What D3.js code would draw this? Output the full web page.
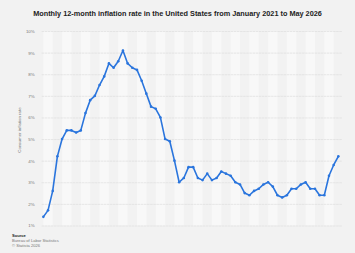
<!DOCTYPE html>
<html>
<head>
<meta charset="utf-8">
<script src="https://cdn.jsdelivr.net/npm/d3@7"></script>
<style>
  html, body { margin: 0; padding: 0; background: #f2f2f2; }
  svg { display: block; font-family: "Liberation Sans", Arial, sans-serif; }
</style>
</head>
<body>
<div id="wrapper"></div>
<script>
// months shown (October 2025 has no value, so it is skipped)
const months = [
  "Jan 2021","Feb 2021","Mar 2021","Apr 2021","May 2021","Jun 2021","Jul 2021","Aug 2021","Sep 2021","Oct 2021","Nov 2021","Dec 2021",
  "Jan 2022","Feb 2022","Mar 2022","Apr 2022","May 2022","Jun 2022","Jul 2022","Aug 2022","Sep 2022","Oct 2022","Nov 2022","Dec 2022",
  "Jan 2023","Feb 2023","Mar 2023","Apr 2023","May 2023","Jun 2023","Jul 2023","Aug 2023","Sep 2023","Oct 2023","Nov 2023","Dec 2023",
  "Jan 2024","Feb 2024","Mar 2024","Apr 2024","May 2024","Jun 2024","Jul 2024","Aug 2024","Sep 2024","Oct 2024","Nov 2024","Dec 2024",
  "Jan 2025","Feb 2025","Mar 2025","Apr 2025","May 2025","Jun 2025","Jul 2025","Aug 2025","Sep 2025","Nov 2025","Dec 2025",
  "Jan 2026","Feb 2026","Mar 2026","Apr 2026","May 2026"
];
const rates = [
  1.4, 1.7, 2.6, 4.2, 5.0, 5.4, 5.4, 5.3, 5.4, 6.2, 6.8, 7.0,
  7.5, 7.9, 8.5, 8.3, 8.6, 9.1, 8.5, 8.3, 8.2, 7.7, 7.1, 6.5,
  6.4, 6.0, 5.0, 4.9, 4.0, 3.0, 3.2, 3.7, 3.7, 3.2, 3.1, 3.4,
  3.1, 3.2, 3.5, 3.4, 3.3, 3.0, 2.9, 2.5, 2.4, 2.6, 2.7, 2.9,
  3.0, 2.8, 2.4, 2.3, 2.4, 2.7, 2.7, 2.9, 3.0, 2.7, 2.7,
  2.4, 2.4, 3.3, 3.8, 4.2
];
const yTicks = [1, 2, 3, 4, 5, 6, 7, 8, 9, 10];

const dataset = months.map((m, i) => ({ month: m, rate: rates[i] }));
const xAccessor = d => d.month;
const yAccessor = d => d.rate;

let dimensions = {
  width: 355,
  height: 253,
  margin: { top: 31, right: 14.3, bottom: 27.5, left: 41 },
};
dimensions.boundedWidth = dimensions.width - dimensions.margin.left - dimensions.margin.right;
dimensions.boundedHeight = dimensions.height - dimensions.margin.top - dimensions.margin.bottom;

const wrapper = d3.select("#wrapper")
  .append("svg")
  .attr("width", dimensions.width)
  .attr("height", dimensions.height);

wrapper.append("rect")
  .attr("width", dimensions.width)
  .attr("height", dimensions.height)
  .attr("fill", "#f2f2f2");

const bounds = wrapper.append("g")
  .attr("transform", `translate(${dimensions.margin.left},${dimensions.margin.top})`);

// scales
const xScale = d3.scalePoint()
  .domain(months)
  .range([0, dimensions.boundedWidth])
  .padding(0.5);

const yScale = d3.scaleLinear()
  .domain([1, 10])
  .range([dimensions.boundedHeight, 0]);

// alternating light bands, two months wide, every four months
const bandStarts = months.filter((m, i) => i % 4 === 0);
bounds.selectAll(".band")
  .data(bandStarts)
  .enter()
  .append("rect")
  .attr("class", "band")
  .attr("x", d => xScale(d))
  .attr("y", 0)
  .attr("width", xScale.step() * 2)
  .attr("height", dimensions.boundedHeight)
  .attr("fill", "#f8f8f8");

// y axis with gridlines
const yAxisGenerator = d3.axisLeft(yScale)
  .tickValues(yTicks)
  .tickSize(-(dimensions.boundedWidth + 0.7))
  .tickPadding(7)
  .tickFormat(d => d + "%");

const yAxis = bounds.append("g")
  .attr("transform", "translate(0.7,0)")
  .call(yAxisGenerator);
yAxis.select(".domain").remove();
yAxis.selectAll("line")
  .attr("stroke", "#dadada")
  .attr("stroke-width", 0.6)
  .attr("stroke-dasharray", "2.5,0.6");
yAxis.selectAll("text")
  .attr("fill", "#777")
  .style("font-size", "4.4px");

wrapper.append("text")
  .attr("transform", `translate(20.5,${dimensions.margin.top + 99}) rotate(-90)`)
  .attr("text-anchor", "middle")
  .attr("fill", "#777")
  .style("font-size", "4.4px")
  .text("Consumer inflation rate");

// line
const lineGenerator = d3.line()
  .x(d => xScale(xAccessor(d)))
  .y(d => yScale(yAccessor(d)));

bounds.append("path")
  .datum(dataset)
  .attr("d", lineGenerator)
  .attr("fill", "none")
  .attr("stroke", "#2a75dd")
  .attr("stroke-width", 1.6)
  .attr("stroke-linejoin", "round");

bounds.selectAll(".dot")
  .data(dataset)
  .enter()
  .append("circle")
  .attr("class", "dot")
  .attr("cx", d => xScale(xAccessor(d)))
  .attr("cy", d => yScale(yAccessor(d)))
  .attr("r", 1.3)
  .attr("fill", "#2a75dd");

// title
wrapper.append("text")
  .attr("x", 177.5)
  .attr("y", 15.5)
  .attr("text-anchor", "middle")
  .attr("fill", "#222")
  .style("font-size", "7.3px")
  .style("font-weight", "bold")
  .text("Monthly 12-month inflation rate in the United States from January 2021 to May 2026");

// source block
const source = wrapper.append("g")
  .attr("transform", "translate(12,0)")
  .style("font-size", "4.1px");
source.append("text")
  .attr("y", 237)
  .attr("fill", "#222")
  .style("font-weight", "bold")
  .text("Source");
source.append("text")
  .attr("y", 242)
  .attr("fill", "#777")
  .text("Bureau of Labor Statistics");
source.append("text")
  .attr("y", 247)
  .attr("fill", "#777")
  .text("© Statista 2026");
</script>
</body>
</html>
